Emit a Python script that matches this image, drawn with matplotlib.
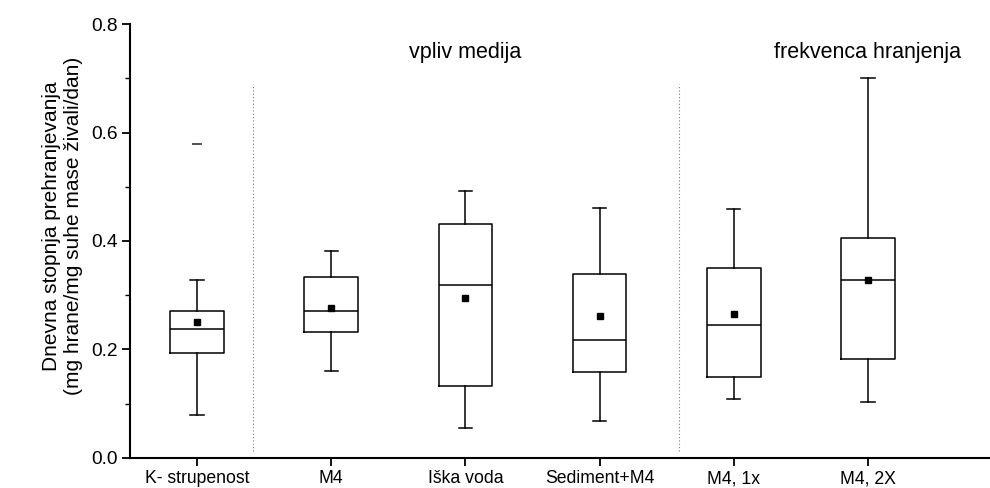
import matplotlib

matplotlib.use("Agg")
import matplotlib.pyplot as plt
from matplotlib.ticker import MultipleLocator, FormatStrFormatter

plt.rcParams["font.family"] = ["Liberation Sans", "DejaVu Sans"]

categories = ["K- strupenost", "M4", "Iška voda", "Sediment+M4", "M4, 1x", "M4, 2X"]
whisker_low = [0.080, 0.161, 0.056, 0.069, 0.109, 0.104]
q1 = [0.193, 0.232, 0.133, 0.159, 0.149, 0.182]
median = [0.238, 0.271, 0.318, 0.218, 0.245, 0.328]
q3 = [0.271, 0.334, 0.432, 0.340, 0.350, 0.406]
whisker_high = [0.328, 0.381, 0.492, 0.461, 0.459, 0.700]
means = [0.251, 0.277, 0.295, 0.262, 0.265, 0.329]
outliers = [[0.579], [], [], [], [], []]

group_labels = ["vpliv medija", "frekvenca hranjenja"]
group_label_x = [3, 6]
separators = [1.42, 4.59]

stats = []
for i, name in enumerate(categories):
    stats.append(dict(label=name, whislo=whisker_low[i], q1=q1[i], med=median[i],
                      q3=q3[i], whishi=whisker_high[i], mean=means[i], fliers=outliers[i]))

fig = plt.figure(figsize=(9.9, 4.88), dpi=100)
ax = fig.add_axes([0.1313, 0.0615, 0.8687, 0.8893])

line = dict(color="black", linewidth=1.1)
ax.bxp(stats, positions=range(1, len(categories) + 1), widths=0.4, capwidths=0.1,
       showmeans=True, showfliers=True,
       boxprops=line, whiskerprops=line, capprops=line, medianprops=line,
       meanprops=dict(marker="s", markerfacecolor="black", markeredgecolor="black", markersize=4.5),
       flierprops=dict(marker="_", markeredgecolor="#444444", markersize=6.5, markeredgewidth=1.3))

for x in separators:
    ax.plot([x, x], [0.012, 0.69], color="#777777", linestyle=(0, (1, 2)), linewidth=0.8)

for label, x in zip(group_labels, group_label_x):
    ax.text(x, 0.748, label, ha="center", va="center", fontsize=15.5)

ax.set_xlim(0.5, 6.91)
ax.set_ylim(0, 0.8)
ax.yaxis.set_major_locator(MultipleLocator(0.2))
ax.yaxis.set_minor_locator(MultipleLocator(0.1))
ax.yaxis.set_major_formatter(FormatStrFormatter("%.1f"))
ax.set_xticks(range(1, len(categories) + 1))
ax.set_xticklabels(categories, fontsize=12.7)
ax.tick_params(axis="y", labelsize=13.8)
ax.tick_params(which="major", direction="out", length=6, width=1.3, pad=3)
ax.tick_params(which="minor", direction="out", length=3.5, width=1.0)

for side in ["top", "right"]:
    ax.spines[side].set_visible(False)
for side in ["left", "bottom"]:
    ax.spines[side].set_linewidth(1.5)

ax.set_ylabel("Dnevna stopnja prehranjevanja\n(mg hrane/mg suhe mase živali/dan)", fontsize=15)
ax.yaxis.set_label_coords(-0.055, 0.535)

fig.savefig("out.png", dpi=100)
plt.close(fig)
